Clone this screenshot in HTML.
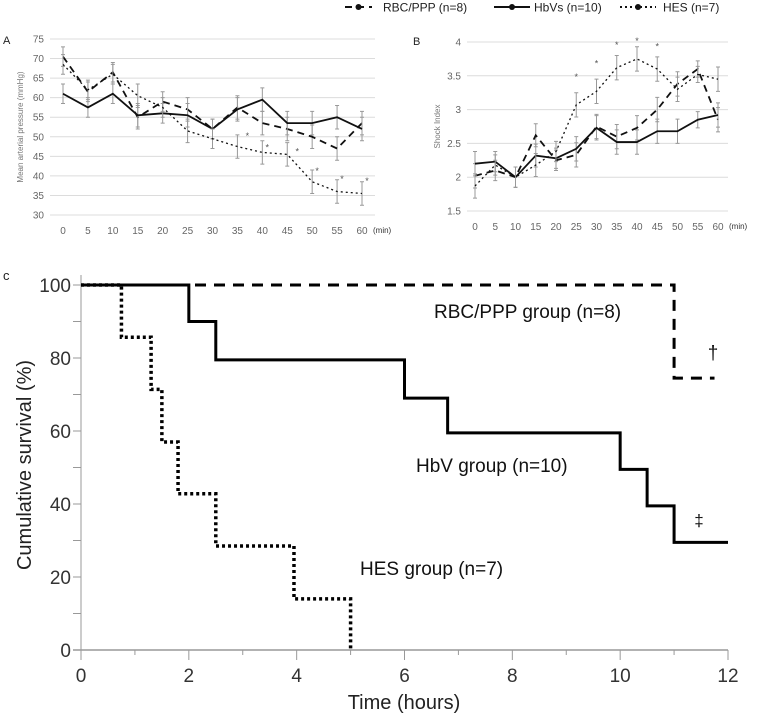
<!DOCTYPE html>
<html><head><meta charset="utf-8"><style>
body{margin:0;background:#fff;}
svg{display:block;font-family:"Liberation Sans",sans-serif;}
</style></head><body>
<svg id="s" width="758" height="718"></svg>
<script>
const times=[0,5,10,15,20,25,30,35,40,45,50,55,60];
const mapRBC=[70.5,61.5,66.5,55,59,57,52,57.5,53.5,52,50,47,53.5];
const mapHbV=[61,57.5,61,55.5,56,55.5,52,57,59.5,53.5,53.5,55,52];
const mapHES=[68.5,62,66,60.5,57.5,51.5,49.5,47.5,46,45.5,38.5,36,35.5];
const mapErr=[2.5,2.5,2.5,3,2.5,3,2.5,3,3,3,3,3,3];
const mapTicks=[30,35,40,45,50,55,60,65,70,75];
const mapStars=[[37,50.5],[41,47.5],[47,46.5],[51,41.5],[56,39.5],[61,39]];
const siRBC=[2.02,2.1,2.0,2.62,2.25,2.33,2.75,2.6,2.73,3.0,3.38,3.6,2.85];
const siHbV=[2.2,2.23,2.0,2.32,2.28,2.42,2.73,2.52,2.52,2.68,2.68,2.85,2.92];
const siHES=[1.87,2.18,2.0,2.18,2.38,3.07,3.27,3.62,3.75,3.6,3.3,3.52,3.45];
const siErr=[0.18,0.15,0.15,0.17,0.15,0.18,0.18,0.18,0.18,0.18,0.18,0.12,0.18];
const siTicks=[1.5,2,2.5,3,3.5,4];
const siStars=[[25,3.5],[30,3.7],[35,3.97],[40,4.03],[45,3.95]];
const kmHbV=[[0,100],[2,90],[2.5,79.5],[6,69],[6.8,59.5],[10,49.5],[10.5,39.5],[11,29.5],[12,29.5]];
const kmHES=[[0,100],[0.75,85.7],[1.3,71.4],[1.5,57],[1.8,42.8],[2.5,28.5],[3.95,14],[5,0],[5,0]];
const kmRBC=[[0,100],[11,74.5],[11.75,74.5]];
const kmTicksX=[0,2,4,6,8,10,12];
const kmTicksY=[0,20,40,60,80,100];

const S=document.getElementById('s');const NS='http://www.w3.org/2000/svg';
function el(t,a,txt){const e=document.createElementNS(NS,t);for(const k in a)e.setAttribute(k,a[k]);if(txt!==undefined)e.textContent=txt;S.appendChild(e);return e;}
const styles={rbc:'7,5',hbv:'',hes:'2,3'};

function small(x0,x1,xl,xr,yTop,yBot,vmin,vmax,ticks,series,err,stars,letter,ytitle,name,fmt){
  const X=t=>xl+(xr-xl)*t/60, Y=v=>yBot-(yBot-yTop)*(v-vmin)/(vmax-vmin);
  ticks.forEach(v=>{const g=el('line',{x1:x0,x2:x1,y1:Y(v),y2:Y(v),stroke:'#dcdcdc','stroke-width':1});
    
    const t=el('text',{x:x0-6,y:Y(v)+3.5,'font-size':10,fill:'#666','text-anchor':'end'},fmt(v));
    });
  times.forEach(tm=>{const t=el('text',{x:X(tm),y:yBot+19,'font-size':10,fill:'#666','text-anchor':'middle'},tm);
    });
  const u=el('text',{x:xr+11,y:yBot+18,'font-size':8,fill:'#333'},'(min)');
  const l=el('text',{x:letter[0],y:letter[1],'font-size':11,fill:'#222'},letter[2]);
  const cy=(yTop+yBot)/2;const yt=el('text',{x:0,y:0,'font-size':8,fill:'#777','text-anchor':'middle',transform:`translate(${x0-27},${cy}) rotate(-90)`},ytitle);
  
  series.forEach(([key,vals])=>{
    vals.forEach((v,i)=>{const e=err[i];const ex=X(times[i]);
      const b=el('path',{d:`M${ex},${Y(v-e)}V${Y(v+e)}M${ex-2},${Y(v-e)}H${ex+2}M${ex-2},${Y(v+e)}H${ex+2}`,stroke:'#999','stroke-width':1,fill:'none'});
      });
    const p=el('polyline',{points:vals.map((v,i)=>X(times[i])+','+Y(v)).join(' '),fill:'none',stroke:'#111','stroke-width':key==='hes'?1.3:1.8,'stroke-dasharray':styles[key]});
    });
  stars.forEach(([t,v])=>{const s=el('text',{x:X(t),y:Y(v)+4,'font-size':9,fill:'#555','text-anchor':'middle'},'*');
    });
}
small(50,375,63,362,39,215,30,75,mapTicks,[['rbc',mapRBC],['hbv',mapHbV],['hes',mapHES]],mapErr,mapStars,[3,44,'A'],'Mean arterial pressure (mmHg)','panel-a',v=>v);
small(467,728,475,718,42,211,1.5,4,siTicks,[['rbc',siRBC],['hbv',siHbV],['hes',siHES]],siErr,siStars,[413,45,'B'],'Shock Index','panel-b',v=>v);

// legend
[[345,372,'rbc','RBC/PPP (n=8)',383],[494,530,'hbv','HbVs (n=10)',534],[620,656,'hes','HES (n=7)',663]].forEach(([a,b,k,t,tx])=>{
  const ln=el('line',{x1:a,x2:b,y1:7,y2:7,stroke:'#111','stroke-width':2,'stroke-dasharray':k==='hes'?'2,3':styles[k]});
  const c=el('circle',{cx:(a+b)/2,cy:7,r:3,fill:'#111'});
  const tt=el('text',{x:tx,y:11.5,'font-size':12,fill:'#222'},t);});

// panel C
const cx0=81,cx1=728,cyT=285,cyB=650;
const CX=t=>cx0+(cx1-cx0)*t/12, CY=v=>cyB-(cyB-cyT)*v/100;
let ax=el('line',{x1:cx0,x2:cx0,y1:275,y2:cyB,stroke:'#999','stroke-width':1});
ax=el('line',{x1:cx0-8,x2:cx1,y1:cyB,y2:cyB,stroke:'#999','stroke-width':1.5});
for(let v=0;v<=100;v+=10){const tk=el('line',{x1:cx0-8,x2:cx0,y1:CY(v),y2:CY(v),stroke:'#999'});}
for(let t=0;t<=12;t++){const tk=el('line',{x1:CX(t),x2:CX(t),y1:cyB,y2:cyB+(t%2?5:10),stroke:'#999'});}
kmTicksY.forEach(v=>{const t=el('text',{x:cx0-10,y:CY(v)+7,'font-size':19,fill:'#333','text-anchor':'end'},v);});
kmTicksX.forEach(v=>{const t=el('text',{x:CX(v),y:cyB+32,'font-size':19,fill:'#333','text-anchor':'middle'},v);});
let t=el('text',{x:3,y:280,'font-size':13,fill:'#222'},'c');
t=el('text',{x:404,y:709,'font-size':20,fill:'#222','text-anchor':'middle'},'Time (hours)');
t=el('text',{x:0,y:0,'font-size':20,fill:'#222','text-anchor':'middle',transform:'translate(31,465) rotate(-90)'},'Cumulative survival (%)');
function step(pts){let d=`M${CX(pts[0][0])},${CY(pts[0][1])}`;for(let i=1;i<pts.length;i++){d+=`H${CX(pts[i][0])}V${CY(pts[i][1])}`;}return d;}
[['hbv',kmHbV,'',3],['hes',kmHES,'3,3',3.5],['rbc',kmRBC,'11,8',3]].forEach(([k,p,da,w])=>{
  const e=el('path',{d:step(p),fill:'none',stroke:'#000','stroke-width':w,'stroke-dasharray':da});});
[[434,318,'RBC/PPP group (n=8)'],[416,472,'HbV group (n=10)'],[360,575,'HES group (n=7)']].forEach(([x,y,s],i)=>{
  const e=el('text',{x:x,y:y,'font-size':19,fill:'#111'},s);});
t=el('text',{x:713,y:359,'font-size':19,fill:'#111','text-anchor':'middle'},'†');
t=el('text',{x:699,y:526,'font-size':17,fill:'#111','text-anchor':'middle'},'‡');
</script>
</body></html>
